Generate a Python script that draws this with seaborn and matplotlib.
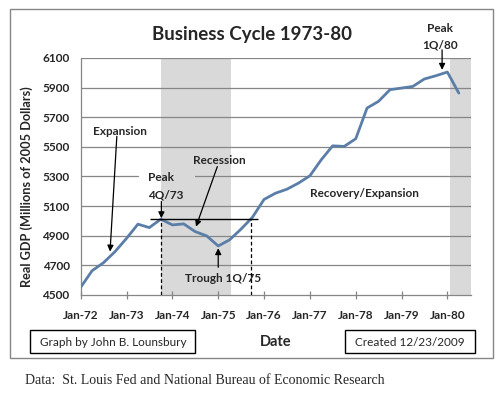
import numpy as np
import pandas as pd
import seaborn as sns
import matplotlib.pyplot as plt
import matplotlib.dates as mdates
from matplotlib.patches import Rectangle

sns.set_theme(style="white")
plt.rcParams['font.family'] = ['Lato', 'DejaVu Sans']

# quarterly real GDP, 1972Q1 .. 1980Q2
start_quarter = '1972Q1'
gdp = [4552, 4664, 4718, 4793,
       4883, 4978, 4955, 5012,
       4973, 4980, 4928, 4899,
       4831, 4872, 4944, 5025,
       5145, 5187, 5214, 5255,
       5305, 5413, 5507, 5503,
       5555, 5762, 5807, 5886,
       5897, 5908, 5958, 5980,
       6005, 5863]
recessions = [('1973-10-01', '1975-04-15'), ('1980-01-20', '1980-07-05')]
yticks = list(range(4500, 6101, 200))
peak1_val = 5012

dates = pd.period_range(start_quarter, periods=len(gdp), freq='Q').to_timestamp()
df = pd.DataFrame({'date': dates, 'gdp': gdp})

fig = plt.figure(figsize=(4.99, 3.95), dpi=100)
ax = fig.add_axes([0.1617, 0.2532, 0.9433 - 0.1617, 0.8532 - 0.2532])

for a, b in recessions:
    ax.axvspan(pd.Timestamp(a), pd.Timestamp(b), color='#d9d9d9', lw=0, zorder=0)

grid = dict(color='#868686', lw=0.9, zorder=1)
for v in yticks[1:]:
    if v == 5300:
        # gap behind the "Peak 4Q/73" label
        ax.axhline(v, xmax=0.147, **grid)
        ax.axhline(v, xmin=0.293, **grid)
    else:
        ax.axhline(v, **grid)

sns.lineplot(data=df, x='date', y='gdp', ax=ax, color='#5a7ea8', lw=2, zorder=4)

ax.set_xlim(pd.Timestamp('1972-01-01'), pd.Timestamp('1980-07-05'))
ax.set_ylim(4500, 6100)
ax.set_yticks(yticks)
ax.xaxis.set_major_locator(mdates.YearLocator())
ax.xaxis.set_major_formatter(mdates.DateFormatter('%b-%y'))
for lab in ax.get_xticklabels() + ax.get_yticklabels():
    lab.set_fontweight('bold')
ax.tick_params(axis='x', direction='inout', length=6, width=0.9, color='#868686',
               labelsize=8.5, pad=8, bottom=True)
ax.tick_params(axis='y', length=0, labelsize=8.5, pad=8)
for s in ['top', 'right']:
    ax.spines[s].set_visible(False)
for s in ['left', 'bottom']:
    ax.spines[s].set_color('#868686')
    ax.spines[s].set_linewidth(0.9)

ax.set_xlabel('Date', fontsize=10.5, fontweight='bold', labelpad=10)
ax.set_ylabel('Real GDP (Millions of 2005 Dollars)', fontsize=9.2, fontweight='bold')
ax.yaxis.set_label_coords(-0.122, 0.458)
ax.set_title('Business Cycle 1973-80', fontsize=13.5, fontweight='bold', pad=13, x=0.438)

# annotations
arrow = dict(arrowstyle='-|>', color='black', lw=0.9, mutation_scale=9, shrinkA=0, shrinkB=0)
lab = dict(fontsize=8.5, fontweight='bold', ha='center', va='center')
p73 = pd.Timestamp('1973-10-05')
t75 = pd.Timestamp('1975-01-01')
rec_end = pd.Timestamp('1975-09-20')

ax.hlines(peak1_val, pd.Timestamp('1973-07-05'), pd.Timestamp('1975-11-10'), color='black', lw=1, zorder=5)
ax.vlines([p73, rec_end], 4500, peak1_val, color='black', lw=0.9, linestyles=(0, (3, 2)), zorder=5)

ax.annotate('', xy=(pd.Timestamp('1972-08-22'), 4793), xytext=(pd.Timestamp('1972-10-15'), 5571), arrowprops=arrow)
ax.text(pd.Timestamp('1972-11-10'), 5601, 'Expansion', **lab)

ax.text(pd.Timestamp('1973-06-20'), 5291, 'Peak', **{**lab, 'ha': 'left'})
ax.text(pd.Timestamp('1973-06-20'), 5176, '4Q/73', **{**lab, 'ha': 'left'})
ax.annotate('', xy=(p73, 5018), xytext=(p73, 5131), arrowprops=arrow, zorder=6)

ax.annotate('', xy=(pd.Timestamp('1974-07-08'), 4961), xytext=(pd.Timestamp('1974-12-25'), 5367), arrowprops=arrow)
ax.text(pd.Timestamp('1975-01-12'), 5405, 'Recession', **lab)

ax.annotate('', xy=(t75, 4816), xytext=(t75, 4687), arrowprops=arrow)
ax.text(pd.Timestamp('1975-02-05'), 4608, 'Trough 1Q/75', **lab)

ax.text(pd.Timestamp('1978-03-15'), 5182, 'Recovery/Expansion', **lab)

p80 = pd.Timestamp('1979-11-20')
ax.annotate('', xy=(p80, 6020), xytext=(p80, 6155), arrowprops=arrow, annotation_clip=False)
ax.text(pd.Timestamp('1979-11-05'), 6302, 'Peak', clip_on=False, **lab)
ax.text(pd.Timestamp('1979-11-05'), 6189, '1Q/80', clip_on=False, **lab)

# outer frame and footers
W, H = 499, 395


def fig_box(x0, y0, x1, y1, **kw):
    fig.patches.append(Rectangle((x0 / W, 1 - y1 / H), (x1 - x0) / W, (y1 - y0) / H,
                                 transform=fig.transFigure, fill=False, **kw))


fig_box(10, 9.3, 492.7, 358.3, edgecolor='#868686', lw=1)
fig_box(30.3, 330, 195.3, 353.3, edgecolor='black', lw=1)
fig_box(345, 330, 475.3, 353.3, edgecolor='black', lw=1)
fig.text(112.8 / W, 1 - 342 / H, 'Graph by John B. Lounsbury', fontsize=8.5, va='center', ha='center')
fig.text(410 / W, 1 - 342 / H, 'Created 12/23/2009', fontsize=8.5, va='center', ha='center')
fig.text(25 / W, 1 - 380 / H, 'Data:  St. Louis Fed and National Bureau of Economic Research',
         fontsize=10, family='Liberation Serif', va='center', ha='left')

fig.savefig('out.png', dpi=100)
